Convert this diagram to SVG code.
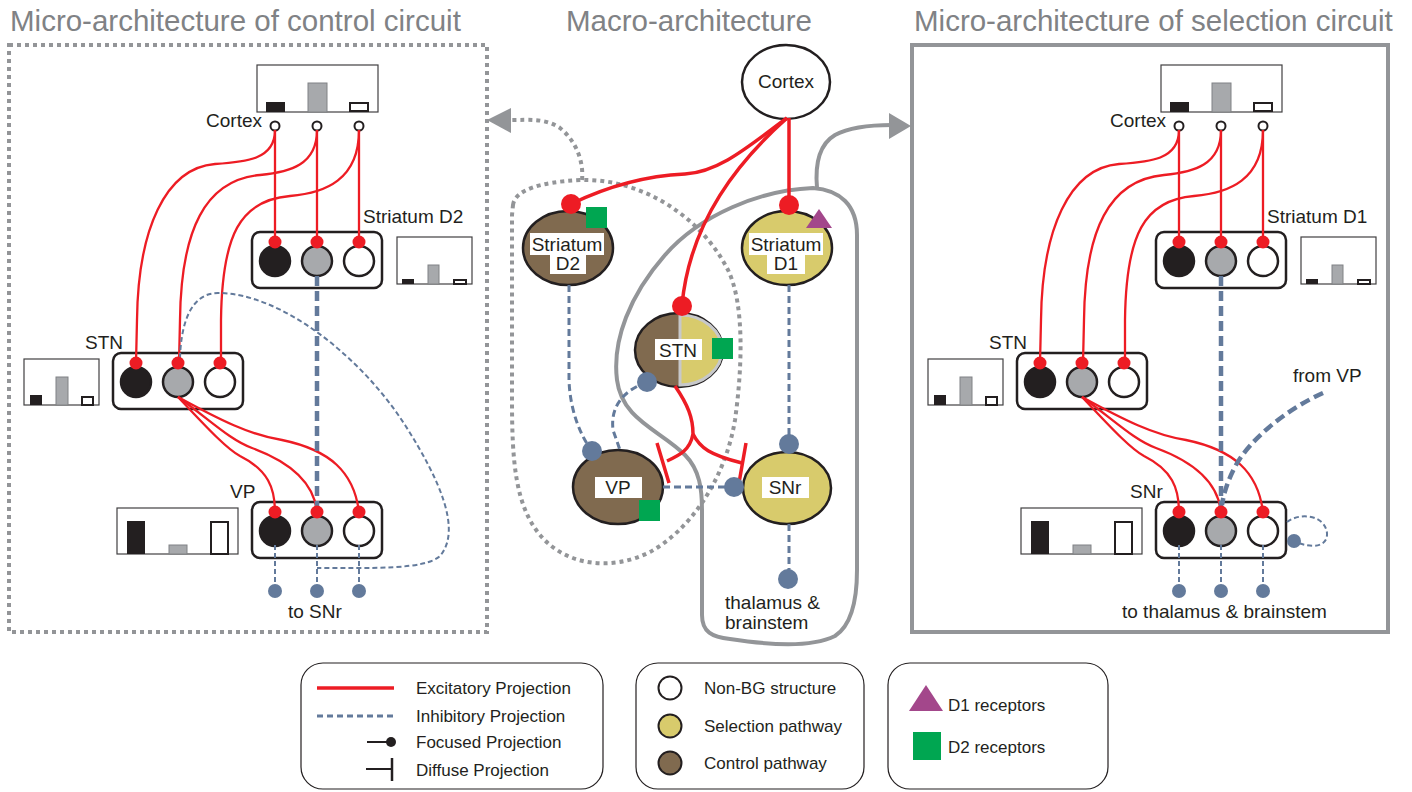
<svg xmlns="http://www.w3.org/2000/svg" width="1412" height="792" viewBox="0 0 1412 792">
<defs>
<style>
text{font-family:"Liberation Sans",Arial,sans-serif;fill:#231f20}
.title{font-size:29.5px;fill:#808285}
.lbl{font-size:19px}
.mid{text-anchor:middle}
.end{text-anchor:end}
.leg{font-size:17px}
.exc{fill:none;stroke:#ed1c24;stroke-width:2.3}
.excT{fill:none;stroke:#ed1c24;stroke-width:3.5}
.rdot{fill:#ed1c24}
.inhT{fill:none;stroke:#637a9b;stroke-width:4.5;stroke-dasharray:10 5}
.inh{fill:none;stroke:#637a9b;stroke-width:2;stroke-dasharray:5 3}
.inhM{fill:none;stroke:#637a9b;stroke-width:3;stroke-dasharray:7 4}
.bdot{fill:#637a9b}
.box{fill:#fff;stroke:#231f20;stroke-width:2.5}
.cb{fill:#231f20;stroke:#231f20;stroke-width:2.5}
.cg{fill:#a7a9ac;stroke:#231f20;stroke-width:2.5}
.cw{fill:#fff;stroke:#231f20;stroke-width:2.5}
.sc{fill:#fff;stroke:#231f20;stroke-width:2}
.hist{fill:#fff;stroke:#414042;stroke-width:1.2}
.hb{fill:#231f20}
.hg{fill:#a7a9ac;stroke:#808285;stroke-width:1}
.hw{fill:#fff;stroke:#231f20;stroke-width:2}
.brown{fill:#806a4f;stroke:#231f20;stroke-width:2.5}
.yel{fill:#d8cb6c;stroke:#231f20;stroke-width:2.5}
.wl{fill:#fff}
.d2{fill:#00a651}
.d1{fill:#a3478b}
.gdot{fill:none;stroke:#939598;stroke-width:4;stroke-dasharray:4 4}
.gsol{fill:none;stroke:#939598;stroke-width:4}
.ghead{fill:#939598}
.legbox{fill:#fff;stroke:#231f20;stroke-width:1.2}
</style>
<g id="tri">
<rect class="box" x="0" y="0" width="130" height="56" rx="8"/>
<circle class="cb" cx="23" cy="29" r="15"/>
<circle class="cg" cx="65" cy="29" r="15"/>
<circle class="cw" cx="107" cy="29" r="15"/>
</g>
</defs>

<!-- titles -->
<text class="title" x="10" y="31">Micro-architecture of control circuit</text>
<text class="title" x="566" y="31">Macro-architecture</text>
<text class="title" x="914" y="31">Micro-architecture of selection circuit</text>

<!-- panel frames -->
<g id="panel-frames">
<rect class="gdot" x="9" y="45" width="478" height="587"/>
<rect class="gsol" x="912" y="45" width="476" height="587"/>
</g>

<!-- macro regions -->
<g id="regions">
<path class="gdot" d="M513,205 C515,190 540,182 580,180 C640,178 700,215 728,270 C745,305 742,370 735,420 C725,480 690,530 650,552 C610,572 565,565 540,535 C515,505 512,460 512,400 L512,215 Z"/>
<path class="gdot" d="M582,180 C584,160 575,140 560,128 C545,118 530,120 510,120"/>
<polygon class="ghead" points="487,120 511,108 511,133"/>
<path class="gsol" d="M813,188 C760,190 700,215 665,255 C630,295 612,340 617,380 C622,420 660,430 685,455 C700,470 702,490 702,510 L702,615 C702,632 712,637 730,639 C770,645 810,648 835,636 C852,625 857,600 857,570 L857,235 C857,205 840,190 813,188 Z"/>
<path class="gsol" d="M817,188 C815,165 818,145 835,135 C850,127 870,125 892,125"/>
<polygon class="ghead" points="911,126 889,113 889,139"/>
</g>

<!-- LEFT PANEL NODES -->
<g id="L-cortex">
<rect class="hist" x="257" y="65" width="121" height="47"/>
<rect class="hb" x="266" y="102" width="19" height="10"/>
<rect class="hg" x="308" y="83" width="19" height="29"/>
<rect class="hw" x="350" y="103" width="18" height="8"/>
<circle class="sc" cx="275" cy="126" r="4.5"/>
<circle class="sc" cx="317" cy="126" r="4.5"/>
<circle class="sc" cx="359" cy="126" r="4.5"/>
<text class="lbl end" x="262" y="127">Cortex</text>
</g>
<g id="L-striatum-d2">
<use href="#tri" x="252" y="232"/>
<text class="lbl" x="363" y="223">Striatum D2</text>
<rect class="hist" x="397" y="237" width="75" height="47"/>
<rect class="hb" x="402" y="279" width="12" height="5"/>
<rect class="hg" x="428" y="265" width="11" height="19"/>
<rect class="hw" x="454" y="280" width="12" height="4"/>
</g>
<g id="L-stn">
<use href="#tri" x="113" y="353"/>
<text class="lbl" x="85" y="349">STN</text>
<rect class="hist" x="24" y="359" width="75" height="46"/>
<rect class="hb" x="30" y="395" width="12" height="10"/>
<rect class="hg" x="56" y="377" width="12" height="28"/>
<rect class="hw" x="82" y="397" width="11" height="8"/>
</g>
<g id="L-vp">
<use href="#tri" x="252" y="502"/>
<text class="lbl" x="230" y="498">VP</text>
<rect class="hist" x="117" y="508" width="121" height="46"/>
<rect class="hb" x="127" y="521" width="18" height="33"/>
<rect class="hg" x="169" y="545" width="18" height="9"/>
<rect class="hw" x="211" y="522" width="17" height="32"/>
<text class="lbl" x="288" y="618">to SNr</text>
</g>

<!-- RIGHT PANEL NODES -->
<g id="R-cortex">
<rect class="hist" x="1161" y="65" width="121" height="47"/>
<rect class="hb" x="1170" y="102" width="19" height="10"/>
<rect class="hg" x="1212" y="83" width="19" height="29"/>
<rect class="hw" x="1254" y="103" width="18" height="8"/>
<circle class="sc" cx="1179" cy="126" r="4.5"/>
<circle class="sc" cx="1221" cy="126" r="4.5"/>
<circle class="sc" cx="1263" cy="126" r="4.5"/>
<text class="lbl end" x="1166" y="127">Cortex</text>
</g>
<g id="R-striatum-d1">
<use href="#tri" x="1156" y="232"/>
<text class="lbl" x="1267" y="223">Striatum D1</text>
<rect class="hist" x="1301" y="237" width="75" height="47"/>
<rect class="hb" x="1306" y="279" width="12" height="5"/>
<rect class="hg" x="1332" y="265" width="11" height="19"/>
<rect class="hw" x="1358" y="280" width="12" height="4"/>
</g>
<g id="R-stn">
<use href="#tri" x="1017" y="353"/>
<text class="lbl" x="989" y="349">STN</text>
<rect class="hist" x="928" y="359" width="75" height="46"/>
<rect class="hb" x="934" y="395" width="12" height="10"/>
<rect class="hg" x="960" y="377" width="12" height="28"/>
<rect class="hw" x="986" y="397" width="11" height="8"/>
</g>
<g id="R-snr">
<use href="#tri" x="1156" y="502"/>
<text class="lbl" x="1130" y="498">SNr</text>
<rect class="hist" x="1021" y="508" width="121" height="46"/>
<rect class="hb" x="1031" y="521" width="18" height="33"/>
<rect class="hg" x="1073" y="545" width="18" height="9"/>
<rect class="hw" x="1115" y="522" width="17" height="32"/>
<text class="lbl" x="1122" y="618">to thalamus &amp; brainstem</text>
<text class="lbl" x="1293" y="382">from VP</text>
</g>

<!-- MACRO NODES -->
<g id="M-cortex">
<ellipse cx="786" cy="82" rx="44" ry="37" fill="#fff" stroke="#231f20" stroke-width="2.5"/>
<text class="lbl mid" x="786" y="88">Cortex</text>
</g>
<g id="M-striatum-d2">
<ellipse class="brown" cx="568" cy="248" rx="45" ry="37"/>
<rect class="wl" x="530" y="233" width="74" height="22"/>
<rect class="wl" x="550" y="255" width="36" height="19"/>
<text class="lbl mid" x="567" y="251">Striatum</text>
<text class="lbl mid" x="568" y="270">D2</text>
<rect class="d2" x="586" y="207" width="21" height="21"/>
</g>
<g id="M-striatum-d1">
<ellipse class="yel" cx="787" cy="248" rx="45" ry="37"/>
<rect class="wl" x="749" y="233" width="74" height="22"/>
<rect class="wl" x="767" y="255" width="38" height="19"/>
<text class="lbl mid" x="786" y="251">Striatum</text>
<text class="lbl mid" x="786" y="270">D1</text>
<polygon class="d1" points="806,228 832,228 819,209"/>
</g>
<g id="M-stn">
<ellipse class="brown" cx="679" cy="350" rx="44" ry="37"/>
<path d="M680,315 A42,35 0 0 1 680,385 Z" fill="#d8cb6c" stroke="#c7c8ca" stroke-width="3"/>
<rect class="wl" x="655" y="339" width="47" height="21"/>
<text class="lbl mid" x="678" y="357">STN</text>
<rect class="d2" x="712" y="338" width="21" height="21"/>
</g>
<g id="M-vp">
<ellipse class="brown" cx="618" cy="487" rx="45" ry="37"/>
<rect class="wl" x="595" y="477" width="47" height="21"/>
<text class="lbl mid" x="618" y="494">VP</text>
<rect class="d2" x="639" y="500" width="21" height="21"/>
</g>
<g id="M-snr">
<ellipse class="yel" cx="787" cy="488" rx="44" ry="36"/>
<rect class="wl" x="762" y="477" width="47" height="21"/>
<text class="lbl mid" x="785" y="494">SNr</text>
</g>
<g id="M-thalamus">
<text class="lbl" x="725" y="609">thalamus &amp;</text>
<text class="lbl" x="725" y="629">brainstem</text>
</g>

<!-- CONNECTORS -->
<g id="connectors">
<path class="exc" d="M275,130 L275,242 M317,130 L317,242 M359,130 L359,242"/>
<path class="exc" d="M275,130 C275,160 245,162 215,164 C165,168 138,230 137,320 L136,363"/>
<path class="exc" d="M317,130 C317,165 290,172 260,175 C205,180 181,230 180,320 L179,363"/>
<path class="exc" d="M359,130 C359,180 325,193 290,196 C240,200 222,235 221,320 L221,363"/>
<path class="exc" d="M178,397 C200,420 225,448 240,456 C268,470 275,488 275,512"/>
<path class="exc" d="M178,397 C210,420 230,440 252,448 C290,462 314,482 317,512"/>
<path class="exc" d="M178,397 C220,420 250,435 282,440 C330,450 354,472 359,512"/>
<path class="inhT" d="M317,276 L317,512"/>
<path class="inh" d="M180,358 C181,325 190,293 218,293 C280,293 360,355 405,425 C440,480 462,530 440,556 C425,570 370,568 317,568"/>
<path class="inh" d="M275,545 L275,591 M317,545 L317,591 M359,545 L359,591"/>
<circle class="bdot" cx="275" cy="591" r="7"/>
<circle class="bdot" cx="317" cy="591" r="7"/>
<circle class="bdot" cx="359" cy="591" r="7"/>
<g>
<circle class="rdot" cx="275" cy="242" r="6.5"/><circle class="rdot" cx="317" cy="242" r="6.5"/><circle class="rdot" cx="359" cy="242" r="6.5"/>
<circle class="rdot" cx="136" cy="363" r="6.5"/><circle class="rdot" cx="178" cy="363" r="6.5"/><circle class="rdot" cx="220" cy="363" r="6.5"/>
<circle class="rdot" cx="275" cy="512" r="6.5"/><circle class="rdot" cx="317" cy="512" r="6.5"/><circle class="rdot" cx="359" cy="512" r="6.5"/>
</g>

<path class="exc" d="M1179,130 L1179,242 M1221,130 L1221,242 M1263,130 L1263,242"/>
<path class="exc" d="M1179,130 C1179,160 1149,162 1119,164 C1069,168 1042,230 1041,320 L1040,363"/>
<path class="exc" d="M1221,130 C1221,165 1194,172 1164,175 C1109,180 1085,230 1084,320 L1083,363"/>
<path class="exc" d="M1263,130 C1263,180 1229,193 1194,196 C1144,200 1126,235 1125,320 L1125,363"/>
<path class="exc" d="M1082,397 C1104,420 1129,448 1144,456 C1172,470 1179,488 1179,512"/>
<path class="exc" d="M1082,397 C1114,420 1134,440 1156,448 C1194,462 1218,482 1221,512"/>
<path class="exc" d="M1082,397 C1124,420 1154,435 1186,440 C1234,450 1258,472 1263,512"/>
<path class="inhT" d="M1221,276 L1221,512"/>
<path class="inhT" stroke-width="5" d="M1323,393 C1285,410 1250,440 1236,465 C1228,480 1224,492 1222,505"/>
<path class="inh" d="M1287,522 C1300,512 1325,515 1327,533 C1328,548 1310,548 1296,542"/>
<circle class="bdot" cx="1294" cy="541" r="7"/>
<path class="inh" d="M1179,545 L1179,591 M1221,545 L1221,591 M1263,545 L1263,591"/>
<circle class="bdot" cx="1179" cy="591" r="7"/>
<circle class="bdot" cx="1221" cy="591" r="7"/>
<circle class="bdot" cx="1263" cy="591" r="7"/>
<g>
<circle class="rdot" cx="1179" cy="242" r="6.5"/><circle class="rdot" cx="1221" cy="242" r="6.5"/><circle class="rdot" cx="1263" cy="242" r="6.5"/>
<circle class="rdot" cx="1040" cy="363" r="6.5"/><circle class="rdot" cx="1082" cy="363" r="6.5"/><circle class="rdot" cx="1124" cy="363" r="6.5"/>
<circle class="rdot" cx="1179" cy="512" r="6.5"/><circle class="rdot" cx="1221" cy="512" r="6.5"/><circle class="rdot" cx="1263" cy="512" r="6.5"/>
</g>

<path class="excT" d="M789,118 L789,205"/>
<path class="excT" d="M787,118 C750,145 720,172 685,174 C640,176 600,190 571,204"/>
<path class="excT" d="M787,118 C740,160 690,220 682,305"/>
<circle class="rdot" cx="789" cy="205" r="10"/>
<circle class="rdot" cx="571" cy="204" r="10"/>
<circle class="rdot" cx="682" cy="306" r="10"/>
<path class="excT" d="M675,386 C688,405 693,418 693,434 C690,450 680,455 667,461"/>
<path class="excT" d="M693,434 C700,448 710,455 742,463"/>
<path class="excT" d="M657,443 L669,483 M746,443 L739,483"/>
<path class="inhM" d="M569,285 L569,380 C570,410 580,435 592,451"/>
<path class="inhM" d="M647,382 C625,390 610,405 613,430 L620,450"/>
<path class="inhM" d="M663,487 L734,487"/>
<path class="inhM" d="M789,285 L789,444"/>
<path class="inhM" d="M789,524 L789,579"/>
<circle class="bdot" cx="647" cy="382" r="10"/>
<circle class="bdot" cx="592" cy="451" r="10"/>
<circle class="bdot" cx="734" cy="487" r="10"/>
<circle class="bdot" cx="789" cy="444" r="10"/>
<circle class="bdot" cx="788" cy="579" r="10"/>
</g>

<!-- LEGEND -->
<g id="legend-projections">
<rect class="legbox" x="301" y="663" width="302" height="126" rx="22"/>
<line x1="317" y1="688" x2="394" y2="688" stroke="#ed1c24" stroke-width="3.5"/>
<line x1="317" y1="716" x2="394" y2="716" stroke="#637a9b" stroke-width="3" stroke-dasharray="6 4"/>
<line x1="367" y1="742" x2="390" y2="742" stroke="#231f20" stroke-width="2"/>
<circle cx="391" cy="742" r="5" fill="#231f20"/>
<line x1="366" y1="769" x2="391" y2="769" stroke="#231f20" stroke-width="2"/>
<line x1="392" y1="758" x2="392" y2="781" stroke="#231f20" stroke-width="2.5"/>
<text class="leg" x="416" y="694">Excitatory Projection</text>
<text class="leg" x="416" y="722">Inhibitory Projection</text>
<text class="leg" x="416" y="748">Focused Projection</text>
<text class="leg" x="416" y="776">Diffuse Projection</text>
</g>
<g id="legend-pathways">
<rect class="legbox" x="636" y="663" width="228" height="126" rx="22"/>
<circle cx="670" cy="688" r="11.5" fill="#fff" stroke="#231f20" stroke-width="2"/>
<circle cx="670" cy="726" r="11.5" fill="#d8cb6c" stroke="#231f20" stroke-width="2"/>
<circle cx="670" cy="763" r="11.5" fill="#806a4f" stroke="#231f20" stroke-width="2"/>
<text class="leg" x="704" y="694">Non-BG structure</text>
<text class="leg" x="704" y="732">Selection pathway</text>
<text class="leg" x="704" y="769">Control pathway</text>
</g>
<g id="legend-receptors">
<rect class="legbox" x="888" y="663" width="220" height="126" rx="22"/>
<polygon class="d1" points="909,711 943,711 926,685"/>
<rect class="d2" x="913" y="732" width="28" height="28"/>
<text class="leg" x="948" y="711">D1 receptors</text>
<text class="leg" x="948" y="753">D2 receptors</text>
</g>
</svg>
